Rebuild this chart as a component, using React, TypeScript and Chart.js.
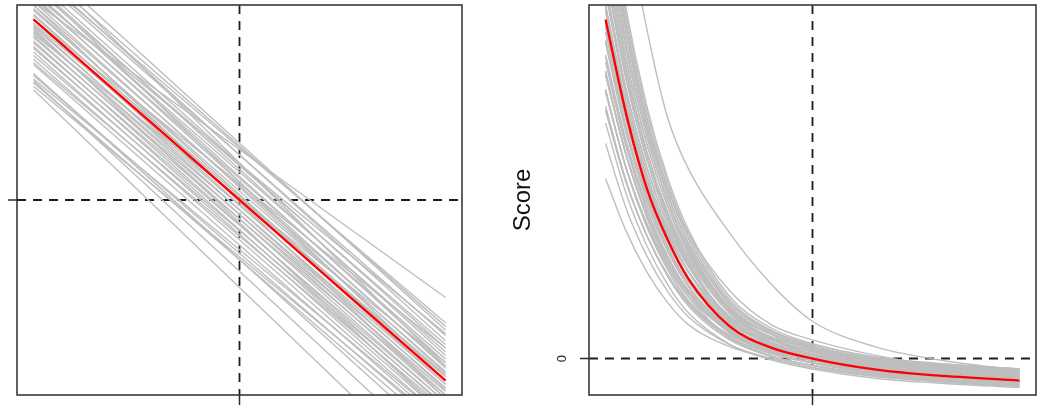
import React, { useEffect, useRef } from 'react';
import { Chart, registerables } from 'chart.js';

Chart.register(...registerables);

const FONT = '"Liberation Sans", Arial, Helvetica, sans-serif';
const GRAY = '#BEBEBE';
const RED = '#FF0000';

// ---------- Left panel (straight lines) ----------
const LEFT_X = [0, 1];
const LEFT_RED = [1.0, -1.0];
const LEFT_GRAY_START = [
  1.10, 0.61, 1.35, 1.30, 1.28, 1.25, 1.22, 1.20, 1.18, 1.16,
  1.15, 1.13, 1.12, 1.10, 1.08, 1.06, 1.05, 1.03, 1.02, 1.00,
  0.98, 0.97, 0.96, 0.94, 0.93, 0.91, 0.90, 0.88, 0.87, 0.85,
  0.84, 0.82, 0.80, 0.78, 0.76, 0.75, 0.69, 0.67, 0.65, 0.63,
  1.26, 1.14, 1.00, 0.92, 1.33, 1.20, 1.08, 0.95, 0.66, 0.70,
];
const LEFT_GRAY_END = [
  -0.54, -1.58, -0.72, -0.70, -0.78, -0.75, -0.82, -0.86, -0.80, -0.90,
  -0.84, -0.93, -0.88, -0.96, -0.92, -1.00, -0.95, -1.02, -0.98, -1.05,
  -0.97, -1.08, -1.02, -1.10, -1.04, -1.12, -1.06, -1.15, -1.08, -1.18,
  -1.12, -1.20, -1.14, -1.22, -1.16, -1.25, -1.28, -1.22, -1.31, -1.26,
  -0.68, -0.74, -0.82, -0.90, -0.92, -1.00, -1.10, -1.20, -1.45, -1.36,
];
const LEFT_X_RANGE = [-0.04, 1.04];
const LEFT_Y_RANGE = [-1.08, 1.08];
const LEFT_REF_X = 0.5;
const LEFT_REF_Y = 0;

// ---------- Right panel (decay curves) ----------
const RIGHT_X = [0, 0.05, 0.1, 0.15, 0.2, 0.3, 0.4, 0.5, 0.65, 0.8, 1.0];
const RIGHT_RED = [1.0, 0.72, 0.5, 0.35, 0.235, 0.095, 0.032, 0.0, -0.032, -0.05, -0.065];
const RIGHT_GRAY_U1 = [1.70, 1.30, 0.97, 0.71, 0.56, 0.37, 0.22, 0.11, 0.035, -0.003, -0.035];
const RIGHT_GRAY_U2 = [1.35, 0.98, 0.70, 0.50, 0.37, 0.20, 0.10, 0.055, 0.01, -0.02, -0.045];
const RIGHT_GRAY_L = [0.53, 0.375, 0.255, 0.165, 0.10, 0.035, 0.0, -0.027, -0.053, -0.068, -0.083];
const RIGHT_GRAY_M = [0.634, 0.442, 0.302, 0.198, 0.123, 0.041, 0.0, -0.026, -0.051, -0.065, -0.079];
const RIGHT_GRAY_BAND = [
  [0.695, 0.485, 0.332, 0.218, 0.135, 0.042, -0.004, -0.031, -0.058, -0.072, -0.086],
  [0.733, 0.518, 0.361, 0.244, 0.159, 0.062, 0.015, -0.012, -0.039, -0.054, -0.068],
  [0.744, 0.523, 0.362, 0.242, 0.155, 0.055, 0.006, -0.020, -0.049, -0.063, -0.078],
  [0.787, 0.560, 0.395, 0.272, 0.183, 0.079, 0.030, 0.002, -0.026, -0.041, -0.055],
  [0.791, 0.559, 0.389, 0.264, 0.172, 0.065, 0.014, -0.013, -0.043, -0.058, -0.072],
  [0.837, 0.600, 0.425, 0.298, 0.203, 0.092, 0.040, 0.012, -0.017, -0.032, -0.047],
  [0.842, 0.599, 0.419, 0.289, 0.192, 0.077, 0.024, -0.005, -0.034, -0.050, -0.064],
  [0.848, 0.599, 0.415, 0.281, 0.182, 0.063, 0.008, -0.021, -0.051, -0.067, -0.081],
  [0.896, 0.641, 0.453, 0.315, 0.213, 0.090, 0.035, 0.005, -0.025, -0.041, -0.056],
  [0.939, 0.676, 0.484, 0.342, 0.238, 0.111, 0.054, 0.024, -0.006, -0.023, -0.038],
  [0.931, 0.662, 0.465, 0.320, 0.213, 0.082, 0.024, -0.007, -0.037, -0.055, -0.070],
  [0.976, 0.700, 0.498, 0.349, 0.240, 0.104, 0.045, 0.013, -0.018, -0.035, -0.050],
  [0.992, 0.709, 0.501, 0.350, 0.237, 0.097, 0.036, 0.004, -0.027, -0.045, -0.060],
  [1.044, 0.753, 0.540, 0.385, 0.270, 0.125, 0.063, 0.031, -0.002, -0.020, -0.035],
  [1.033, 0.735, 0.517, 0.358, 0.240, 0.091, 0.027, -0.006, -0.039, -0.057, -0.073],
  [1.089, 0.784, 0.560, 0.397, 0.276, 0.123, 0.057, 0.023, -0.011, -0.029, -0.044],
  [1.106, 0.793, 0.564, 0.396, 0.273, 0.115, 0.047, 0.012, -0.022, -0.041, -0.056],
  [1.157, 0.836, 0.602, 0.430, 0.304, 0.142, 0.071, 0.035, 0.000, -0.018, -0.034],
  [1.155, 0.826, 0.587, 0.409, 0.280, 0.115, 0.042, 0.004, -0.031, -0.050, -0.065],
  [1.213, 0.876, 0.630, 0.449, 0.316, 0.147, 0.071, 0.032, -0.003, -0.022, -0.038],
  [1.231, 0.886, 0.634, 0.448, 0.312, 0.139, 0.061, 0.020, -0.016, -0.035, -0.051],
  [1.284, 0.930, 0.672, 0.481, 0.342, 0.164, 0.083, 0.041, 0.005, -0.014, -0.031],
  [1.288, 0.926, 0.660, 0.465, 0.322, 0.140, 0.056, 0.013, -0.024, -0.043, -0.060],
  [1.344, 0.973, 0.700, 0.501, 0.354, 0.167, 0.080, 0.036, -0.001, -0.021, -0.037],
  [1.373, 0.992, 0.712, 0.508, 0.358, 0.165, 0.076, 0.030, -0.008, -0.027, -0.044],
  [1.420, 1.030, 0.743, 0.533, 0.380, 0.183, 0.090, 0.044, 0.005, -0.015, -0.032],
  [0.983, 0.710, 0.511, 0.364, 0.256, 0.122, 0.064, 0.033, 0.002, -0.016, -0.030],
  [1.040, 0.739, 0.518, 0.357, 0.237, 0.086, 0.021, -0.013, -0.046, -0.064, -0.080],
  [0.731, 0.518, 0.363, 0.248, 0.164, 0.069, 0.021, -0.004, -0.032, -0.046, -0.060],
  [0.786, 0.562, 0.399, 0.278, 0.190, 0.088, 0.039, 0.012, -0.017, -0.031, -0.045],
  [0.794, 0.560, 0.387, 0.262, 0.168, 0.059, 0.008, -0.020, -0.050, -0.065, -0.079],
  [0.836, 0.597, 0.419, 0.290, 0.194, 0.081, 0.029, 0.001, -0.029, -0.044, -0.058],
  [0.874, 0.622, 0.436, 0.300, 0.200, 0.079, 0.024, -0.005, -0.035, -0.052, -0.066],
  [0.890, 0.632, 0.441, 0.302, 0.199, 0.074, 0.017, -0.012, -0.042, -0.059, -0.074],
  [0.935, 0.669, 0.474, 0.331, 0.225, 0.097, 0.039, 0.009, -0.022, -0.039, -0.053],
  [0.962, 0.682, 0.478, 0.328, 0.216, 0.078, 0.018, -0.013, -0.044, -0.062, -0.077],
  [1.022, 0.735, 0.525, 0.372, 0.258, 0.115, 0.054, 0.022, -0.010, -0.028, -0.043],
  [1.037, 0.743, 0.528, 0.371, 0.254, 0.107, 0.044, 0.011, -0.021, -0.040, -0.055],
  [1.079, 0.771, 0.544, 0.379, 0.256, 0.101, 0.034, -0.001, -0.034, -0.053, -0.068],
  [1.136, 0.820, 0.588, 0.418, 0.293, 0.134, 0.064, 0.028, -0.006, -0.025, -0.040],
  [1.148, 0.823, 0.586, 0.411, 0.284, 0.120, 0.049, 0.011, -0.023, -0.042, -0.058],
  [1.186, 0.854, 0.611, 0.431, 0.301, 0.133, 0.059, 0.020, -0.015, -0.034, -0.049],
  [1.195, 0.855, 0.606, 0.422, 0.288, 0.116, 0.040, -0.001, -0.036, -0.055, -0.071],
  [1.257, 0.908, 0.653, 0.465, 0.327, 0.151, 0.072, 0.030, -0.006, -0.025, -0.041],
  [1.279, 0.921, 0.658, 0.466, 0.324, 0.144, 0.062, 0.019, -0.017, -0.036, -0.053],
  [1.320, 0.953, 0.684, 0.487, 0.342, 0.157, 0.072, 0.029, -0.009, -0.028, -0.044],
  [1.338, 0.963, 0.687, 0.485, 0.336, 0.146, 0.058, 0.014, -0.024, -0.043, -0.060],
  [1.396, 1.011, 0.728, 0.520, 0.369, 0.174, 0.083, 0.037, -0.001, -0.021, -0.038],
];
const RIGHT_X_RANGE = [-0.04, 1.04];
const RIGHT_Y_RANGE = [-0.1076, 1.0426];
const RIGHT_REF_X = 0.5;
const RIGHT_REF_Y = 0;
const RIGHT_Y_TICK_VALUES = [0];
const RIGHT_Y_TICK_LABELS = ['0'];
const RIGHT_Y_TITLE = 'Score';

type DecorCfg = {
  refX: number;
  refY: number;
  xTicks: number[];
  yTicks: number[];
  yTickLabels: string[];
  yTitle: string;
};

function makeDecor(cfg: DecorCfg) {
  return {
    id: 'decor',
    beforeDatasetsDraw(chart: any) {
      const { ctx, chartArea: a, scales } = chart;
      const px = scales.x.getPixelForValue(cfg.refX);
      const py = scales.y.getPixelForValue(cfg.refY);
      ctx.save();
      ctx.strokeStyle = '#1e1e1e';
      ctx.lineWidth = 1.8;
      ctx.setLineDash([9, 7]);
      ctx.beginPath();
      ctx.moveTo(a.left, py);
      ctx.lineTo(a.right, py);
      ctx.stroke();
      ctx.beginPath();
      ctx.moveTo(px, a.top);
      ctx.lineTo(px, a.bottom);
      ctx.stroke();
      ctx.restore();
    },
    afterDatasetsDraw(chart: any) {
      const { ctx, chartArea: a, scales } = chart;
      ctx.save();
      ctx.strokeStyle = '#3a3a3a';
      ctx.lineWidth = 1.6;
      ctx.setLineDash([]);
      ctx.strokeRect(a.left, a.top, a.right - a.left, a.bottom - a.top);
      ctx.strokeStyle = '#2a2a2a';
      ctx.lineWidth = 1.5;
      cfg.xTicks.forEach((v) => {
        const x = scales.x.getPixelForValue(v);
        ctx.beginPath();
        ctx.moveTo(x, a.bottom);
        ctx.lineTo(x, a.bottom + 10);
        ctx.stroke();
      });
      cfg.yTicks.forEach((v, i) => {
        const y = scales.y.getPixelForValue(v);
        ctx.beginPath();
        ctx.moveTo(a.left - 9, y);
        ctx.lineTo(a.left, y);
        ctx.stroke();
        const lab = cfg.yTickLabels[i];
        if (lab) {
          ctx.save();
          ctx.translate(a.left - 27, y);
          ctx.rotate(-Math.PI / 2);
          ctx.fillStyle = '#222';
          ctx.font = `13px ${FONT}`;
          ctx.textAlign = 'center';
          ctx.textBaseline = 'middle';
          ctx.fillText(lab, 0, 0);
          ctx.restore();
        }
      });
      if (cfg.yTitle) {
        ctx.save();
        ctx.translate(a.left - 66, (a.top + a.bottom) / 2);
        ctx.rotate(-Math.PI / 2);
        ctx.fillStyle = '#111';
        ctx.font = `24px ${FONT}`;
        ctx.textAlign = 'center';
        ctx.textBaseline = 'middle';
        ctx.fillText(cfg.yTitle, 0, 0);
        ctx.restore();
      }
      ctx.restore();
    },
  };
}

function lineDs(xs: number[], ys: number[], color: string, width: number, smooth: boolean) {
  return {
    data: xs.map((x, i) => ({ x, y: ys[i] })),
    borderColor: color,
    borderWidth: width,
    pointRadius: 0,
    fill: false,
    clip: 0,
    cubicInterpolationMode: smooth ? 'monotone' : 'default',
    tension: 0,
  };
}

function baseOptions(xr: number[], yr: number[], padding: any) {
  return {
    animation: false,
    responsive: false,
    events: [],
    layout: { padding },
    plugins: { legend: { display: false }, tooltip: { enabled: false } },
    scales: {
      x: { type: 'linear', min: xr[0], max: xr[1], display: false },
      y: { type: 'linear', min: yr[0], max: yr[1], display: false },
    },
  };
}

export default function App() {
  const leftRef = useRef<HTMLCanvasElement>(null);
  const rightRef = useRef<HTMLCanvasElement>(null);

  useEffect(() => {
    const leftDatasets: any[] = [lineDs(LEFT_X, LEFT_RED, RED, 2.3, false)];
    LEFT_GRAY_START.forEach((s, i) => {
      leftDatasets.push(lineDs(LEFT_X, [s, LEFT_GRAY_END[i]], GRAY, 1.4, false));
    });
    const rightGray = [RIGHT_GRAY_U1, RIGHT_GRAY_U2, RIGHT_GRAY_L, RIGHT_GRAY_M, ...RIGHT_GRAY_BAND];
    const rightDatasets: any[] = [lineDs(RIGHT_X, RIGHT_RED, RED, 2.3, true)];
    rightGray.forEach((ys) => rightDatasets.push(lineDs(RIGHT_X, ys, GRAY, 1.4, true)));

    const c1 = new Chart(leftRef.current as HTMLCanvasElement, {
      type: 'line',
      data: { datasets: leftDatasets },
      options: baseOptions(LEFT_X_RANGE, LEFT_Y_RANGE, { left: 17, top: 5, right: 28, bottom: 23 }) as any,
      plugins: [
        makeDecor({ refX: LEFT_REF_X, refY: LEFT_REF_Y, xTicks: [LEFT_REF_X], yTicks: [LEFT_REF_Y], yTickLabels: [''], yTitle: '' }),
      ],
    } as any);
    const c2 = new Chart(rightRef.current as HTMLCanvasElement, {
      type: 'line',
      data: { datasets: rightDatasets },
      options: baseOptions(RIGHT_X_RANGE, RIGHT_Y_RANGE, { left: 99, top: 5, right: 18, bottom: 23 }) as any,
      plugins: [
        makeDecor({
          refX: RIGHT_REF_X,
          refY: RIGHT_REF_Y,
          xTicks: [RIGHT_REF_X],
          yTicks: RIGHT_Y_TICK_VALUES,
          yTickLabels: RIGHT_Y_TICK_LABELS,
          yTitle: RIGHT_Y_TITLE,
        }),
      ],
    } as any);
    return () => {
      c1.destroy();
      c2.destroy();
    };
  }, []);

  return (
    <div style={{ position: 'absolute', left: 0, top: 0, width: 1054, height: 418, background: '#fff' }}>
      <canvas
        ref={leftRef}
        width={490}
        height={418}
        style={{ position: 'absolute', left: 0, top: 0, width: 490, height: 418 }}
      />
      <canvas
        ref={rightRef}
        width={564}
        height={418}
        style={{ position: 'absolute', left: 490, top: 0, width: 564, height: 418 }}
      />
    </div>
  );
}
